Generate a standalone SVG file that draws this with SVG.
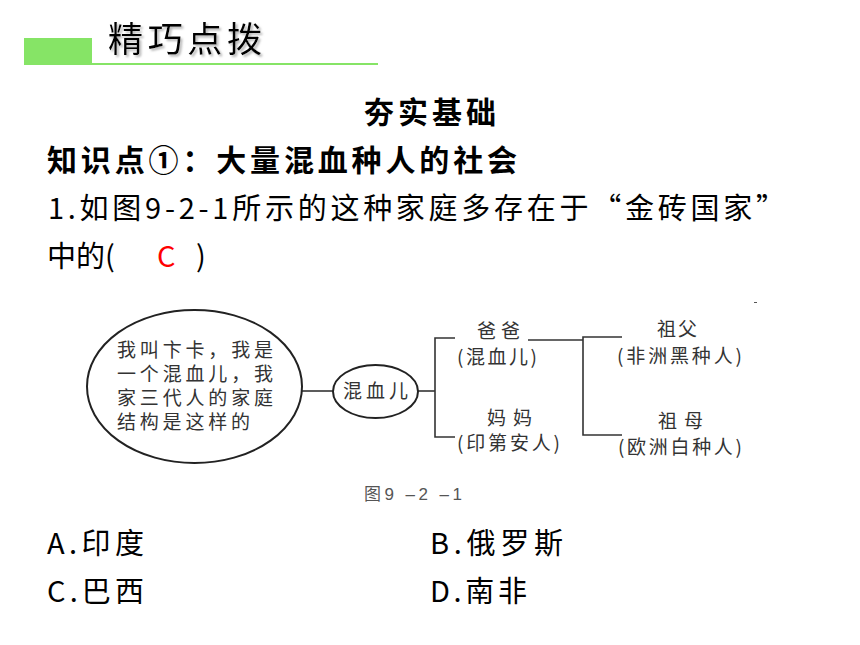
<svg xmlns="http://www.w3.org/2000/svg" width="860" height="645" viewBox="0 0 860 645">
<defs>
<filter id="sh" x="-10%" y="-20%" width="130%" height="150%">
<feDropShadow dx="2" dy="2" stdDeviation="0.8" flood-color="#999" flood-opacity="0.7"/>
</filter>
</defs>
<style>
.t{font-family:"Noto Sans CJK SC","Noto Sans",sans-serif;fill:#000}
.b{font-weight:bold}
.d{font-family:"Noto Sans CJK SC","Noto Sans",sans-serif;font-size:19px;fill:#333}
.ln{stroke:#333;stroke-width:1.6;fill:none}
.el{stroke:#222;stroke-width:2;fill:#fff}
</style>
<rect width="860" height="645" fill="#fff"/>
<g id="header">
<rect x="24" y="38" width="68" height="27" fill="#86e466"/>
<line x1="24" y1="64" x2="378" y2="64" stroke="#86e466" stroke-width="2"/>
<text class="t" x="108" y="52" font-size="35" textLength="154" filter="url(#sh)">精巧点拨</text>
</g>
<g id="texts">
<text class="t b" x="364" y="123" font-size="30" textLength="132">夯实基础</text>
<text class="t b" x="47" y="171" font-size="30" textLength="470">知识点①：大量混血种人的社会</text>
<text class="t" x="48" y="219" font-size="29" textLength="737">1.如图9-2-1所示的这种家庭多存在于“金砖国家”</text>
<text class="t" x="47" y="267" font-size="29">中的(</text>
<text class="t" x="157" y="267" font-size="29" style="fill:#f00">C</text>
<text class="t" x="196" y="267" font-size="29">)</text>
<text class="t" x="47" y="554" font-size="29" textLength="97">A.印度</text>
<text class="t" x="430" y="554" font-size="29" textLength="133">B.俄罗斯</text>
<text class="t" x="47" y="602" font-size="29" textLength="97">C.巴西</text>
<text class="t" x="430" y="602" font-size="29" textLength="97">D.南非</text>
</g>
<g id="connectors">
<line class="ln" x1="302" y1="391" x2="333" y2="391"/>
<line class="ln" x1="418" y1="391" x2="435" y2="391"/>
<polyline class="ln" points="455,338 435,338 435,437 455,437"/>
<line class="ln" x1="528" y1="340" x2="583" y2="340"/>
<polyline class="ln" points="622,337 583,337 583,435 622,435"/>
</g>
<g id="node-intro">
<ellipse class="el" cx="194.5" cy="386.5" rx="107.5" ry="76.5"/>
<text class="d" font-size="20"><tspan x="117" y="357" textLength="156">我叫卞卡，我是</tspan><tspan x="117" y="381" textLength="156">一个混血儿，我</tspan><tspan x="117" y="405" textLength="156">家三代人的家庭</tspan><tspan x="117" y="429" textLength="133">结构是这样的</tspan></text>
</g>
<g id="node-child">
<ellipse class="el" cx="375.5" cy="391.5" rx="42.5" ry="26.5"/>
<text class="d" x="343" y="398" font-size="20" textLength="65">混血儿</text>
</g>
<g id="node-father">
<text class="d" x="477" y="338" textLength="43">爸爸</text>
<text class="d" x="457" y="364" textLength="80">(混血儿)</text>
</g>
<g id="node-mother">
<text class="d" x="487" y="425" textLength="45">妈妈</text>
<text class="d" x="457" y="450" textLength="103">(印第安人)</text>
</g>
<g id="node-grandfather">
<text class="d" x="657" y="336" textLength="40">祖父</text>
<text class="d" x="617" y="363" textLength="125">(非洲黑种人)</text>
</g>
<g id="node-grandmother">
<text class="d" x="658" y="428" textLength="45">祖母</text>
<text class="d" x="618" y="454" textLength="124">(欧洲白种人)</text>
</g>
<g id="caption">
<text x="364" y="500" font-family="'Liberation Sans','Noto Sans CJK SC',sans-serif" font-size="17" fill="#555" textLength="98">图9 –2 –1</text>
<rect x="754" y="302" width="3" height="1" fill="#555"/>
</g>
</svg>
